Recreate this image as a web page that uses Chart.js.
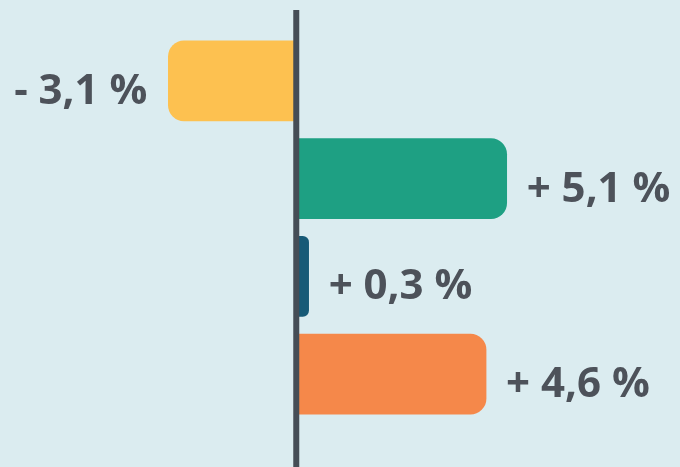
<!DOCTYPE html>
<html lang="fr">
<head>
    <meta charset="UTF-8">
    <title>Évolution</title>
    <script src="https://cdn.jsdelivr.net/npm/chart.js"></script>
    <style>
        html, body { margin: 0; padding: 0; background: #dbecf0; }
        .chart-box { width: 680px; height: 467px; position: relative; }
    </style>
</head>
<body>
    <div class="chart-box">
        <canvas id="deltaChart"></canvas>
    </div>

    <script>
        const categories = ['A', 'B', 'C', 'D'];
        const changes = [-3.1, 5.1, 0.3, 4.6];
        const barColors = ['#fdc150', '#1ea083', '#175a77', '#f5884a'];

        const fmt = v => (v < 0 ? '- ' : '+ ') + Math.abs(v).toFixed(1).replace('.', ',') + ' %';

        // zero line + value labels
        const decorations = {
            id: 'decorations',
            afterDatasetsDraw(chart) {
                const ctx = chart.ctx;
                const x0 = chart.scales.x.getPixelForValue(0);
                ctx.save();
                ctx.fillStyle = '#454d56';
                ctx.fillRect(x0 - 3, chart.chartArea.top - 22, 6, chart.height);

                ctx.font = 'bold 42px "Open Sans"';
                ctx.fillStyle = '#4d525a';
                ctx.textBaseline = 'alphabetic';
                chart.getDatasetMeta(0).data.forEach((bar, i) => {
                    const v = changes[i];
                    const neg = v < 0;
                    ctx.textAlign = neg ? 'right' : 'left';
                    ctx.fillText(fmt(v), bar.x + (neg ? -21 : 20), bar.y + 23);
                });
                ctx.restore();
            }
        };

        new Chart(document.getElementById('deltaChart'), {
            type: 'bar',
            data: {
                labels: categories,
                datasets: [{
                    data: changes,
                    backgroundColor: barColors,
                    borderRadius: 16,
                    borderSkipped: 'start',
                    barThickness: 80
                }]
            },
            options: {
                indexAxis: 'y',
                responsive: true,
                maintainAspectRatio: false,
                animation: false,
                layout: { padding: { top: 32, bottom: 44, left: 0, right: 0 } },
                scales: {
                    x: { display: false, min: -7.18, max: 9.3 },
                    y: { display: false }
                },
                plugins: {
                    legend: { display: false },
                    tooltip: { enabled: false }
                }
            },
            plugins: [decorations]
        });
    </script>
</body>
</html>
